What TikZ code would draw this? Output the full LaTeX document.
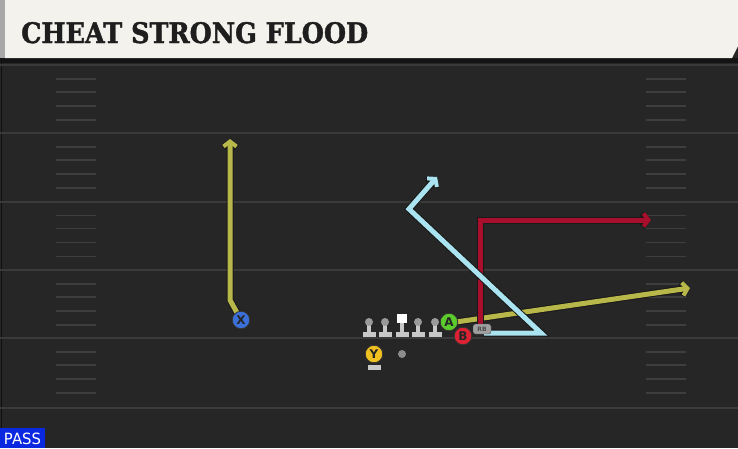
\documentclass[tikz,border=0pt]{standalone}
\usepackage{fontspec}
\usetikzlibrary{arrows.meta}
\newfontfamily\titlefont[BoldFeatures={FakeBold=1.5}]{DejaVu Serif}
\newfontfamily\lblfont{DejaVu Sans}
\definecolor{fieldbg}{HTML}{262626}
\definecolor{yardline}{HTML}{3A3A3A}
\definecolor{hashc}{HTML}{3E3E3E}
\definecolor{headbg}{HTML}{F4F2EC}
\definecolor{headgrey}{HTML}{A8A8A8}
\definecolor{titlec}{HTML}{1E1E1E}
\definecolor{ylw}{HTML}{B8B84A}
\definecolor{cyn}{HTML}{AAE4F0}
\definecolor{crim}{HTML}{A80F2C}
\definecolor{xblue}{HTML}{3A70D8}
\definecolor{agreen}{HTML}{5CCB2C}
\definecolor{bred}{HTML}{DD2233}
\definecolor{yyel}{HTML}{F0C020}
\definecolor{passblue}{HTML}{0A28E0}
\definecolor{olgrey}{HTML}{C8C8C8}
\definecolor{olhead}{HTML}{9A9A9A}
\tikzset{
  routeline/.style={line width=5pt, line join=miter, -{Straight Barb[length=5pt,width=13pt,line width=4pt]}},
  routeout/.style={line width=7pt, draw=black!90, line join=miter, -{Straight Barb[length=5pt,width=13pt,line width=6pt]}},
  player/.style={circle, draw=black!80, line width=0.8pt, minimum size=17.5pt, inner sep=0pt, font=\lblfont\bfseries\fontsize{12}{12}\selectfont, text=black!85},
  yard/.style={draw=yardline, line width=2pt},
  hashm/.style={draw=hashc, line width=1.8pt},
  pics/lineman/.style={code={
    \fill[olgrey] (-6.5,9.5) rectangle (6.5,14.5);
    \fill[olgrey] (-2,0) rectangle (2,10);
    \fill[olhead] (0,0) circle (4);
  }},
}
\begin{document}
\begin{tikzpicture}[x=1pt,y=-1pt]
\useasboundingbox (0,0) rectangle (738,448);
\fill[fieldbg] (0,0) rectangle (738,448);
% field edge
\draw[draw=black!60!fieldbg, line width=1pt] (1,62) -- (1,448);
% yard lines
\foreach \yy in {65,133,201.5,270,338,408} {
  \draw[yard] (0,\yy) -- (738,\yy);
}
% hash marks
\foreach \yy in {65,133,201.5,270,338} {
  \foreach \dd in {14,27,41,55} {
    \draw[hashm] (56,\yy+\dd) -- (96,\yy+\dd);
    \draw[hashm] (646,\yy+\dd) -- (686,\yy+\dd);
  }
}
% header
\fill[black!92] (0,58) rectangle (738,63);
\fill[headgrey] (0,0) rectangle (5,58);
\fill[headbg] (5,0) -- (738,0) -- (738,46) -- (732,58) -- (5,58) -- cycle;
\node[anchor=base west, inner sep=0pt, text=titlec] (title) at (21,43)
  {\resizebox{347pt}{21pt}{\titlefont\bfseries CHEAT STRONG FLOOD}};
% coordinates
\coordinate (xbend) at (230,300);
\coordinate (xtip) at (230,139);
\coordinate (ytip) at (690,288);
\coordinate (rcorner) at (480,220);
\coordinate (rtip) at (651,220);
\coordinate (cright) at (541,333);
\coordinate (cbend) at (409,209);
\coordinate (ctip) at (437,177);
\coordinate (rstart) at (480,328);
\coordinate (cstart) at (484,333);
\coordinate (astart) at (449,323);
% routes: X
\draw[routeout] (241,320) -- (xbend) -- (xtip);
\draw[routeline, draw=ylw] (241,320) -- (xbend) -- (xtip);
% A yellow
\draw[routeout] (astart) -- (ytip);
\draw[routeline, draw=ylw] (astart) -- (ytip);
% red
\draw[routeout] (rstart) -- (rcorner) -- (rtip);
\draw[routeline, draw=crim] (rstart) -- (rcorner) -- (rtip);
% cyan
\draw[routeout] (cstart) -- (cright) -- (cbend) -- (ctip);
\draw[routeline, draw=cyn] (cstart) -- (cright) -- (cbend) -- (ctip);
% linemen
\pic at (369,322) {lineman};
\pic at (385,322) {lineman};
\pic at (418,322) {lineman};
\pic at (435,322) {lineman};
% center
\fill[olgrey] (395.5,331.5) rectangle (408.5,336.5);
\fill[olgrey] (400,320) rectangle (404,332);
\fill[white] (397,314) rectangle (406.5,323);
% Y base
\fill[olgrey] (367.5,365) rectangle (380.5,369.5);
% players
\node[player, fill=xblue] (X) at (241,320) {X};
\node[player, fill=agreen] (A) at (449,322) {A};
\node[player, fill=bred] (B) at (463,336) {B};
\node[player, fill=yyel] (Y) at (374,354) {Y};
\node[draw=black!70, fill=olgrey!80!black, rounded corners=2.5pt, minimum width=18pt, minimum height=10pt, inner sep=0pt, text=black!70, font=\lblfont\bfseries\fontsize{6}{6}\selectfont] (RB) at (482,329) {RB};
\node[circle, fill=black!45, minimum size=8pt, inner sep=0pt] (ball) at (402,354) {};
% PASS
\fill[passblue] (0,428) rectangle (45,448);
\node[inner sep=0pt, text=white] (pass) at (22.5,439)
  {\resizebox{37pt}{11.5pt}{\lblfont PASS}};
\end{tikzpicture}
\end{document}
